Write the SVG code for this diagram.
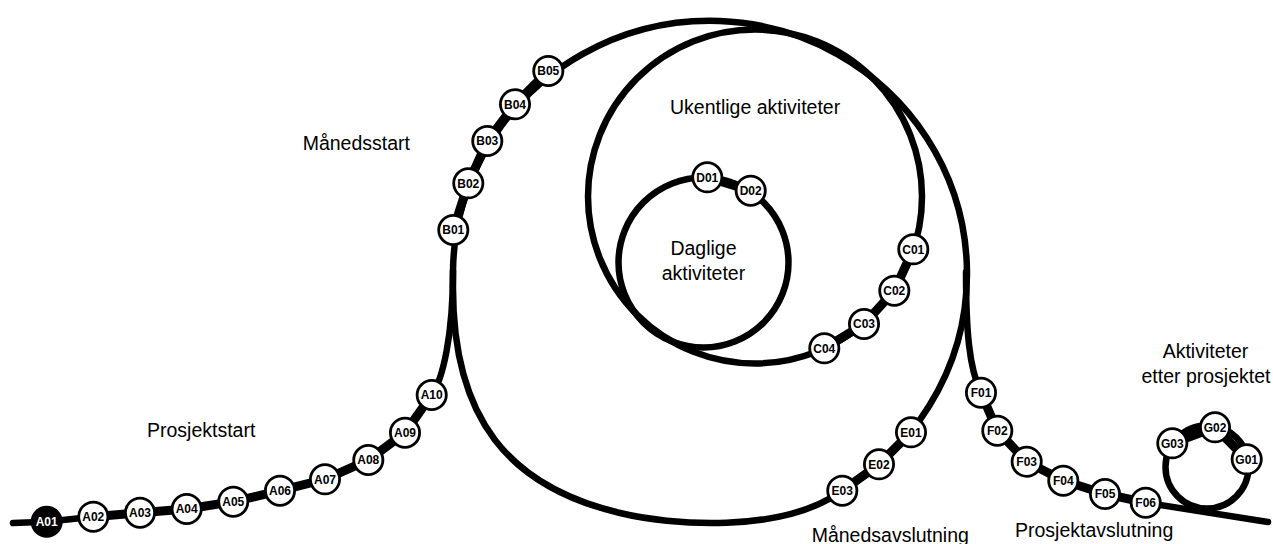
<svg xmlns="http://www.w3.org/2000/svg" width="1273" height="544" viewBox="0 0 1273 544">
<style>
.track{fill:none;stroke:#000;stroke-width:6.5;stroke-linecap:round;stroke-linejoin:round}
.link{fill:none;stroke:#000;stroke-width:9;stroke-linecap:butt}
.node circle{fill:#fff;stroke:#000;stroke-width:2.8}
.node text{font-family:"Liberation Sans",Arial,sans-serif;font-weight:bold;font-size:12px;text-anchor:middle;fill:#000}
.node.start circle{fill:#000}
.node.start text{fill:#fff}
.label{font-family:"Liberation Sans",Arial,sans-serif;font-size:19.5px;fill:#000}
.mid{text-anchor:middle}
</style>
<rect width="1273" height="544" fill="#fff"/>
<g id="connectors">
  <!-- project start line -->
  <path class="track" d="M13,523 L46.7,521.7 L93.3,516.7 L140,512.7 L186.7,509 L233.3,501.7 L280,490.7 L325,479.3 L368.3,460 L405,432.7 L431.7,395 C443,379 453,335 453,271"/>
  <!-- month loop -->
  <path class="track" d="M453,285 L453,271 A257,253 0 1 1 842.3,490.7 C781.5,534.6 668.6,524.8 620,513 C510,487 452,420 453,285 Z"/>
  <!-- weekly loop -->
  <circle class="track" cx="755" cy="196.5" r="167"/>
  <!-- daily loop -->
  <circle class="track" cx="703.5" cy="262.5" r="85"/>
  <!-- project end line -->
  <path class="track" d="M966,272 C966,330 969,368 981,392.7 L997.3,430.7 L1026.7,461.7 L1063.3,480.7 L1105,494 L1145.7,502.7 L1268,522"/>
  <!-- after-project loop -->
  <circle class="track" cx="1207" cy="467" r="41.5"/>
  <!-- thick links between consecutive activities -->
  <path class="link" d="M93.3,516.7 L140,512.7 L186.7,509 L233.3,501.7 L280,490.7 L325,479.3 L368.3,460 L405,432.7 L431.7,395"/>
  <path class="link" d="M453.3,230 L468.3,183.3 L487.3,141 L515,104.3 L548.3,71"/>
  <path class="link" d="M913.3,249.3 L894.3,290.7 L864,324 L824.3,348.3"/>
  <path class="link" d="M707.3,177.3 L750.7,190.7"/>
  <path class="link" d="M911,432.3 L879,464.3 L842.3,490.7"/>
  <path class="link" d="M981,392.7 L997.3,430.7 L1026.7,461.7 L1063.3,480.7 L1105,494 L1145.7,502.7"/>
  <path class="link" d="M1172.3,443.3 L1215,427.3 L1246.7,459.3"/>
</g>
<g id="A01" class="node start"><circle cx="46.7" cy="521.7" r="14.6"/><text x="46.7" y="526">A01</text></g>
<g id="A02" class="node"><circle cx="93.3" cy="516.7" r="14.6"/><text x="93.3" y="521">A02</text></g>
<g id="A03" class="node"><circle cx="140" cy="512.7" r="14.6"/><text x="140" y="517">A03</text></g>
<g id="A04" class="node"><circle cx="186.7" cy="509" r="14.6"/><text x="186.7" y="513.3">A04</text></g>
<g id="A05" class="node"><circle cx="233.3" cy="501.7" r="14.6"/><text x="233.3" y="506">A05</text></g>
<g id="A06" class="node"><circle cx="280" cy="490.7" r="14.6"/><text x="280" y="495">A06</text></g>
<g id="A07" class="node"><circle cx="325" cy="479.3" r="14.6"/><text x="325" y="483.6">A07</text></g>
<g id="A08" class="node"><circle cx="368.3" cy="460" r="14.6"/><text x="368.3" y="464.3">A08</text></g>
<g id="A09" class="node"><circle cx="405" cy="432.7" r="14.6"/><text x="405" y="437">A09</text></g>
<g id="A10" class="node"><circle cx="431.7" cy="395" r="14.6"/><text x="431.7" y="399.3">A10</text></g>
<g id="B01" class="node"><circle cx="453.3" cy="230" r="14.6"/><text x="453.3" y="234.3">B01</text></g>
<g id="B02" class="node"><circle cx="468.3" cy="183.3" r="14.6"/><text x="468.3" y="187.6">B02</text></g>
<g id="B03" class="node"><circle cx="487.3" cy="141" r="14.6"/><text x="487.3" y="145.3">B03</text></g>
<g id="B04" class="node"><circle cx="515" cy="104.3" r="14.6"/><text x="515" y="108.6">B04</text></g>
<g id="B05" class="node"><circle cx="548.3" cy="71" r="14.6"/><text x="548.3" y="75.3">B05</text></g>
<g id="C01" class="node"><circle cx="913.3" cy="249.3" r="14.6"/><text x="913.3" y="253.6">C01</text></g>
<g id="C02" class="node"><circle cx="894.3" cy="290.7" r="14.6"/><text x="894.3" y="295">C02</text></g>
<g id="C03" class="node"><circle cx="864" cy="324" r="14.6"/><text x="864" y="328.3">C03</text></g>
<g id="C04" class="node"><circle cx="824.3" cy="348.3" r="14.6"/><text x="824.3" y="352.6">C04</text></g>
<g id="D01" class="node"><circle cx="707.3" cy="177.3" r="14.6"/><text x="707.3" y="181.6">D01</text></g>
<g id="D02" class="node"><circle cx="750.7" cy="190.7" r="14.6"/><text x="750.7" y="195">D02</text></g>
<g id="E01" class="node"><circle cx="911" cy="432.3" r="14.6"/><text x="911" y="436.6">E01</text></g>
<g id="E02" class="node"><circle cx="879" cy="464.3" r="14.6"/><text x="879" y="468.6">E02</text></g>
<g id="E03" class="node"><circle cx="842.3" cy="490.7" r="14.6"/><text x="842.3" y="495">E03</text></g>
<g id="F01" class="node"><circle cx="981" cy="392.7" r="14.6"/><text x="981" y="397">F01</text></g>
<g id="F02" class="node"><circle cx="997.3" cy="430.7" r="14.6"/><text x="997.3" y="435">F02</text></g>
<g id="F03" class="node"><circle cx="1026.7" cy="461.7" r="14.6"/><text x="1026.7" y="466">F03</text></g>
<g id="F04" class="node"><circle cx="1063.3" cy="480.7" r="14.6"/><text x="1063.3" y="485">F04</text></g>
<g id="F05" class="node"><circle cx="1105" cy="494" r="14.6"/><text x="1105" y="498.3">F05</text></g>
<g id="F06" class="node"><circle cx="1145.7" cy="502.7" r="14.6"/><text x="1145.7" y="507">F06</text></g>
<g id="G01" class="node"><circle cx="1246.7" cy="459.3" r="14.6"/><text x="1246.7" y="463.6">G01</text></g>
<g id="G02" class="node"><circle cx="1215" cy="427.3" r="14.6"/><text x="1215" y="431.6">G02</text></g>
<g id="G03" class="node"><circle cx="1172.3" cy="443.3" r="14.6"/><text x="1172.3" y="447.6">G03</text></g>
<g id="labels">
  <text class="label" x="147" y="437">Prosjektstart</text>
  <text class="label" x="302.7" y="150">Månedsstart</text>
  <text class="label" x="670" y="114.3">Ukentlige aktiviteter</text>
  <text class="label mid" x="703.5" y="254.5">Daglige</text>
  <text class="label mid" x="703.5" y="279.5">aktiviteter</text>
  <text class="label" x="811.7" y="542.3">Månedsavslutning</text>
  <text class="label" x="1015" y="537.3">Prosjektavslutning</text>
  <text class="label mid" x="1205.5" y="358">Aktiviteter</text>
  <text class="label mid" x="1206" y="383">etter prosjektet</text>
</g>
</svg>
